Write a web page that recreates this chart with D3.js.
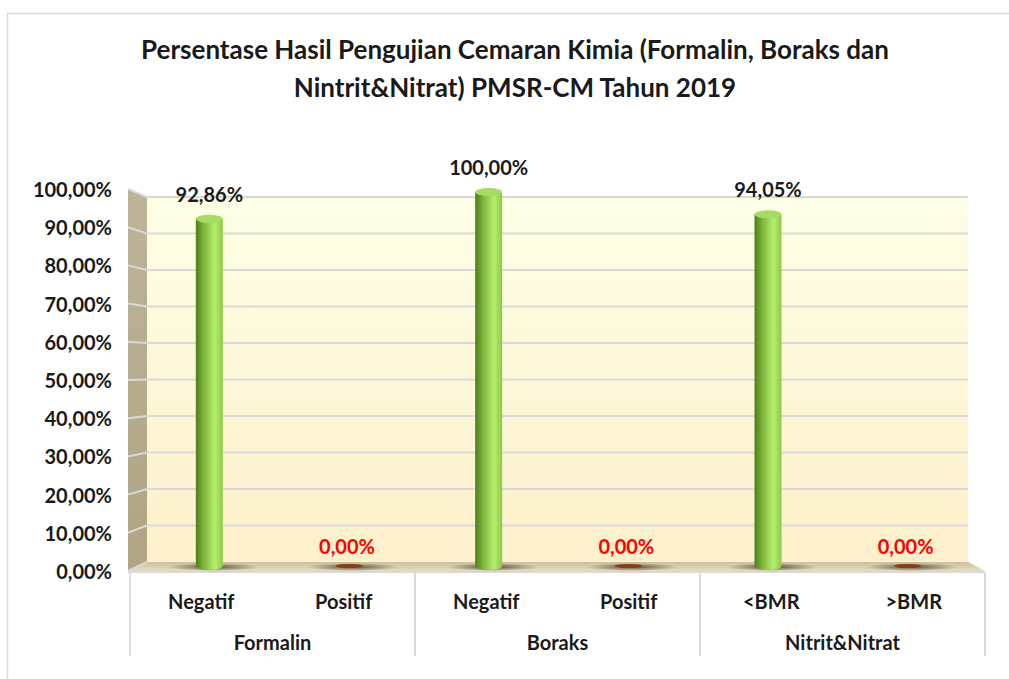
<!DOCTYPE html>
<html>
<head>
<meta charset="utf-8">
<script src="https://cdn.jsdelivr.net/npm/d3@7"></script>
<style>
  body { margin: 0; background: #fff; }
  text { font-family: Lato, "Open Sans", sans-serif; font-weight: bold; }
</style>
</head>
<body>
<div id="chart"></div>
<script>
// data
var groupNames = ["Formalin", "Boraks", "Nitrit&Nitrat"];
var subLabels = ["Negatif", "Positif", "Negatif", "Positif", "<BMR", ">BMR"];
var values = [92.86, 0, 100, 0, 94.05, 0];
var yTicks = [0, 10, 20, 30, 40, 50, 60, 70, 80, 90, 100];

var w = 1009, h = 679;
var fs = "20px";

var svg = d3.select("#chart").append("svg")
  .attr("width", w)
  .attr("height", h);

var defs = svg.append("defs");

var wallGrad = defs.append("linearGradient").attr("id", "wall")
  .attr("x1", 0).attr("y1", 0).attr("x2", 0).attr("y2", 1);
wallGrad.append("stop").attr("offset", "0%").attr("stop-color", "#fefee6");
wallGrad.append("stop").attr("offset", "100%").attr("stop-color", "#fdf0cb");

var sideGrad = defs.append("linearGradient").attr("id", "side")
  .attr("x1", 0).attr("y1", 0).attr("x2", 0).attr("y2", 1);
sideGrad.append("stop").attr("offset", "0%").attr("stop-color", "#bdb498");
sideGrad.append("stop").attr("offset", "100%").attr("stop-color", "#afa585");

var floorGrad = defs.append("linearGradient").attr("id", "floor")
  .attr("x1", 0).attr("y1", 0).attr("x2", 0).attr("y2", 1);
floorGrad.append("stop").attr("offset", "0%").attr("stop-color", "#cbc19c");
floorGrad.append("stop").attr("offset", "100%").attr("stop-color", "#e3dcc0");

var barGrad = defs.append("linearGradient").attr("id", "cyl")
  .attr("x1", 0).attr("y1", 0).attr("x2", 1).attr("y2", 0);
barGrad.append("stop").attr("offset", "0%").attr("stop-color", "#4f7d1c");
barGrad.append("stop").attr("offset", "30%").attr("stop-color", "#7fb63a");
barGrad.append("stop").attr("offset", "70%").attr("stop-color", "#b4ee6e");
barGrad.append("stop").attr("offset", "100%").attr("stop-color", "#8ec947");

var shadowGrad = defs.append("radialGradient").attr("id", "shadow");
shadowGrad.append("stop").attr("offset", "0%").attr("stop-color", "#3a3020").attr("stop-opacity", 0.8);
shadowGrad.append("stop").attr("offset", "100%").attr("stop-color", "#3a3020").attr("stop-opacity", 0);

// outer chart border
svg.append("rect")
  .attr("x", 7.5).attr("y", 13.5)
  .attr("width", 1020).attr("height", 700)
  .attr("fill", "#fff")
  .attr("stroke", "#d9d9d9")
  .attr("stroke-width", 1.5);

// title
var title = svg.append("text")
  .attr("text-anchor", "middle")
  .attr("font-size", "26px")
  .attr("fill", "#1a1a1a");
title.append("tspan").attr("x", 515).attr("y", 59)
  .text("Persentase Hasil Pengujian Cemaran Kimia (Formalin, Boraks dan");
title.append("tspan").attr("x", 515).attr("y", 97)
  .text("Nintrit&Nitrat) PMSR-CM Tahun 2019");

// 3D-ish scales: front edge and back wall
var frontL = 130, frontR = 985, backL = 147, backR = 968;
var yFront = d3.scaleLinear().domain([0, 100]).range([571, 189]);
var yBack = d3.scaleLinear().domain([0, 100]).range([562, 197]);
var yBar = d3.scaleLinear().domain([0, 100]).range([568, 192]);

var idx = d3.range(values.length);
var xFront = d3.scaleBand().domain(idx).range([frontL, frontR]);
var xMid = d3.scaleBand().domain(idx).range([(frontL + backL) / 2 + 1, (frontR + backR) / 2 + 1]);

// back wall
svg.append("rect")
  .attr("x", backL).attr("y", yBack(100))
  .attr("width", backR - backL).attr("height", yBack(0) - yBack(100))
  .attr("fill", "url(#wall)");

// side wall
svg.append("path")
  .attr("d", `M${frontL - 2},${yFront(100)} L${backL},${yBack(100)} L${backL},${yBack(0)} L${frontL - 2},${yFront(0)} Z`)
  .attr("fill", "url(#side)");

// floor
svg.append("path")
  .attr("d", `M${backL},${yBack(0)} L${backR},${yBack(0)} L${frontR},${yFront(0)} L${frontL - 2},${yFront(0)} Z`)
  .attr("fill", "url(#floor)");

// gridlines
var grid = svg.append("g").attr("stroke", "#d9d9d9").attr("stroke-width", 2).attr("fill", "none");
grid.selectAll("line.back").data(yTicks.filter(d => d > 0)).enter().append("line")
  .attr("x1", backL).attr("x2", backR)
  .attr("y1", d => yBack(d)).attr("y2", d => yBack(d));
grid.selectAll("line.side").data(yTicks).enter().append("line")
  .attr("x1", frontL - 2).attr("x2", backL)
  .attr("y1", d => yFront(d)).attr("y2", d => yBack(d));
grid.append("line")
  .attr("x1", frontL - 2).attr("x2", frontR)
  .attr("y1", yFront(0) + 1).attr("y2", yFront(0) + 1);

// y axis labels
var yAxis = d3.axisLeft(yFront)
  .tickValues(yTicks)
  .tickSize(0)
  .tickPadding(0)
  .tickFormat(d => d3.format(".2f")(d).replace(".", ",") + "%");
var ya = svg.append("g")
  .attr("transform", "translate(112,1)")
  .call(yAxis);
ya.select(".domain").remove();
ya.selectAll("text")
  .attr("font-size", fs)
  .attr("fill", "#1a1a1a")
  .style("font-family", "Lato, 'Open Sans', sans-serif")
  .style("font-weight", "bold");

// bars (cylinders)
var bw = 27, ry = 4;
var bars = svg.append("g");
idx.forEach(function (i) {
  var cx = xMid(i) + xMid.bandwidth() / 2;
  var v = values[i];
  var top = yBar(v), base = yBar(0) - 2;
  bars.append("ellipse")
    .attr("cx", cx + 4).attr("cy", base + 1)
    .attr("rx", 46).attr("ry", 4)
    .attr("fill", "url(#shadow)");
  if (v > 0) {
    bars.append("path")
      .attr("d", `M${cx - bw / 2},${top} L${cx - bw / 2},${base} A${bw / 2},${ry} 0 0 0 ${cx + bw / 2},${base} L${cx + bw / 2},${top} Z`)
      .attr("fill", "url(#cyl)");
    bars.append("ellipse")
      .attr("cx", cx).attr("cy", top)
      .attr("rx", bw / 2).attr("ry", ry)
      .attr("fill", "#a6dc62");
  } else {
    bars.append("ellipse")
      .attr("cx", cx).attr("cy", base)
      .attr("rx", bw / 2).attr("ry", 2)
      .attr("fill", "#8b3a1a");
  }
  svg.append("text")
    .attr("x", cx + (v > 0 ? 0 : -2))
    .attr("y", v > 0 ? top - 17 : yBar(0) - 14)
    .attr("text-anchor", "middle")
    .attr("font-size", fs)
    .attr("fill", v > 0 ? "#1a1a1a" : "#ff0000")
    .text(d3.format(".2f")(v).replace(".", ",") + "%");
});

// category axis (two levels)
var cat = svg.append("g");
cat.selectAll("text.sub").data(idx).enter().append("text")
  .attr("x", i => xFront(i) + xFront.bandwidth() / 2)
  .attr("y", 609)
  .attr("text-anchor", "middle")
  .attr("font-size", fs)
  .attr("fill", "#1a1a1a")
  .text(i => subLabels[i]);

var groupX = d3.scaleBand().domain(groupNames).range([frontL, frontR]);
cat.selectAll("text.grp").data(groupNames).enter().append("text")
  .attr("x", g => groupX(g) + groupX.bandwidth() / 2)
  .attr("y", 650)
  .attr("text-anchor", "middle")
  .attr("font-size", fs)
  .attr("fill", "#1a1a1a")
  .text(g => g);

var seps = groupNames.map(g => groupX(g)).concat([frontR]);
cat.selectAll("line").data(seps).enter().append("line")
  .attr("x1", d => d).attr("x2", d => d)
  .attr("y1", yFront(0) + 2).attr("y2", 656)
  .attr("stroke", "#d9d9d9").attr("stroke-width", 2);
</script>
</body>
</html>
